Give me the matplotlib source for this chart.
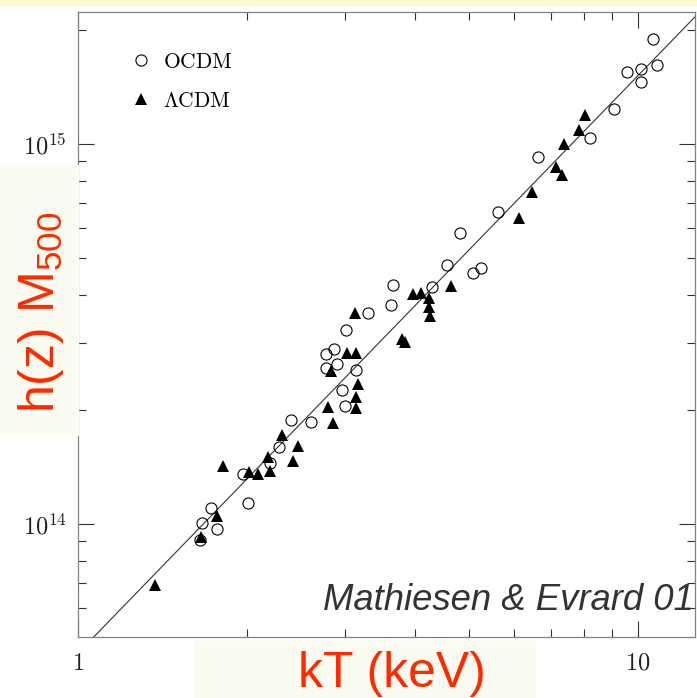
import numpy as np
import matplotlib
matplotlib.use("Agg")
import matplotlib.pyplot as plt
from matplotlib.patches import Rectangle
from matplotlib.ticker import LogLocator, NullFormatter, FixedLocator

plt.rcParams['mathtext.fontset'] = 'cm'
plt.rcParams['mathtext.rm'] = 'Liberation Sans'

# cluster temperatures (keV) and masses h(z) M500 (Msun)
ocdm_kT = [10.64, 9.56, 10.12, 10.81, 10.12, 9.06, 8.21, 6.63, 5.62, 4.81,
           4.56, 5.08, 5.24, 4.29, 3.65, 3.62, 3.30, 3.01, 2.87, 2.77,
           2.77, 2.90, 3.14, 2.96, 3.00, 2.61, 2.40, 2.285, 2.20, 1.97,
           2.01, 1.73, 1.665, 1.77, 1.65]
ocdm_M = [1.889e15, 1.547e15, 1.576e15, 1.614e15, 1.457e15, 1.236e15, 1.037e15,
          9.24e14, 6.62e14, 5.83e14, 4.80e14, 4.58e14, 4.72e14, 4.20e14, 4.25e14,
          3.77e14, 3.59e14, 3.24e14, 2.89e14, 2.80e14, 2.57e14, 2.64e14, 2.54e14,
          2.25e14, 2.04e14, 1.855e14, 1.877e14, 1.594e14, 1.447e14, 1.354e14,
          1.136e14, 1.102e14, 1.006e14, 9.70e13, 9.08e13]

lcdm_kT = [8.04, 7.85, 7.38, 7.14, 7.32, 6.47, 6.13, 4.64, 3.97, 4.10,
           4.24, 4.24, 4.25, 3.12, 3.79, 3.84, 3.02, 3.14, 2.83, 3.16,
           3.14, 2.80, 3.14, 2.85, 2.31, 2.47, 2.42, 2.18, 1.815, 2.02,
           2.10, 2.20, 1.77, 1.66, 1.373]
lcdm_M = [1.192e15, 1.089e15, 1.0e15, 8.70e14, 8.29e14, 7.47e14, 6.39e14,
          4.23e14, 4.03e14, 4.06e14, 3.93e14, 3.72e14, 3.53e14, 3.59e14, 3.07e14,
          3.01e14, 2.82e14, 2.82e14, 2.53e14, 2.34e14, 2.16e14, 2.03e14, 2.02e14,
          1.845e14, 1.715e14, 1.604e14, 1.465e14, 1.501e14, 1.421e14, 1.370e14,
          1.354e14, 1.379e14, 1.050e14, 9.24e13, 6.91e13]

# power-law fit M = norm * kT^slope
fit_norm = 4.57e13
fit_slope = 1.52
fit_kT = [1.0, 13.0]

red = '#ff2a00'

fig = plt.figure(figsize=(6.97, 6.98), dpi=100)
W, H = 697.0, 698.0

# pale highlight boxes behind the labels
fig.patches.append(Rectangle((0, (H - 5) / H), 1, 5 / H, transform=fig.transFigure,
                             color='#fdf7cc', zorder=0))
fig.patches.append(Rectangle((0, (H - 435) / H), 78 / W, 270 / H, transform=fig.transFigure,
                             color='#fbfcf1', zorder=0))
fig.patches.append(Rectangle((195 / W, 0), 340 / W, (H - 641) / H, transform=fig.transFigure,
                             color='#fbfcf1', zorder=0))

ax = fig.add_axes([78 / W, 61 / H, 617 / W, 625 / H])
ax.set_xscale('log')
ax.set_yscale('log')
ax.set_xlim(1, 10 ** (617 / 560))
ax.set_ylim(10 ** (14 - 113 / 380), 10 ** (14 + 512 / 380))

fx = np.array(fit_kT)
ax.plot(fx, fit_norm * fx ** fit_slope, color='#333333', lw=0.8, zorder=1)

ax.plot(ocdm_kT, ocdm_M, 'o', ms=8, mfc='none', mec='black', mew=0.8,
        label=r'$\mathrm{OCDM}$', zorder=3)
ax.plot(lcdm_kT, lcdm_M, '^', ms=8.5, color='black', mew=0,
        label=r'$\Lambda\mathrm{CDM}$', zorder=3)

ax.xaxis.set_major_locator(FixedLocator([1, 10]))
ax.set_xticklabels([r'$1$', r'$10$'])
ax.yaxis.set_major_locator(FixedLocator([1e14, 1e15]))
ax.set_yticklabels([r'$10^{14}$', r'$10^{15}$'])
for axis in (ax.xaxis, ax.yaxis):
    axis.set_minor_locator(LogLocator(base=10, subs=np.arange(2, 10)))
    axis.set_minor_formatter(NullFormatter())

ax.tick_params(which='both', direction='in', top=True, right=True,
               color='#333333', width=0.8, labelsize=17.5, labelcolor='#222222')
ax.tick_params(which='major', length=11.5)
ax.tick_params(which='minor', length=5.5)
ax.tick_params(axis='y', pad=8)
ax.tick_params(axis='x', pad=10)
for s in ax.spines.values():
    s.set_color('#808080')
    s.set_linewidth(0.9)

ax.legend(loc='upper left', bbox_to_anchor=(0.085, 0.936), frameon=False,
          fontsize=15.5, handlelength=1.0, handletextpad=0.5, labelspacing=0.88,
          borderpad=0, borderaxespad=0)

fig.text(41 / W, (H - 312) / H, r'h(z) M$_{\mathrm{500}}$', rotation=90, color=red,
         fontsize=36, family='Liberation Sans', math_fontfamily='custom',
         ha='center', va='center')
fig.text(392 / W, (H - 687) / H, 'kT (keV)', color=red, fontsize=36,
         family='Liberation Sans', ha='center', va='baseline')
fig.text(323 / W, (H - 610) / H, 'Mathiesen & Evrard 01', color='#333333',
         fontsize=26.3, family='Liberation Sans', style='italic',
         ha='left', va='baseline', zorder=5)

fig.savefig('out.png', dpi=100)
